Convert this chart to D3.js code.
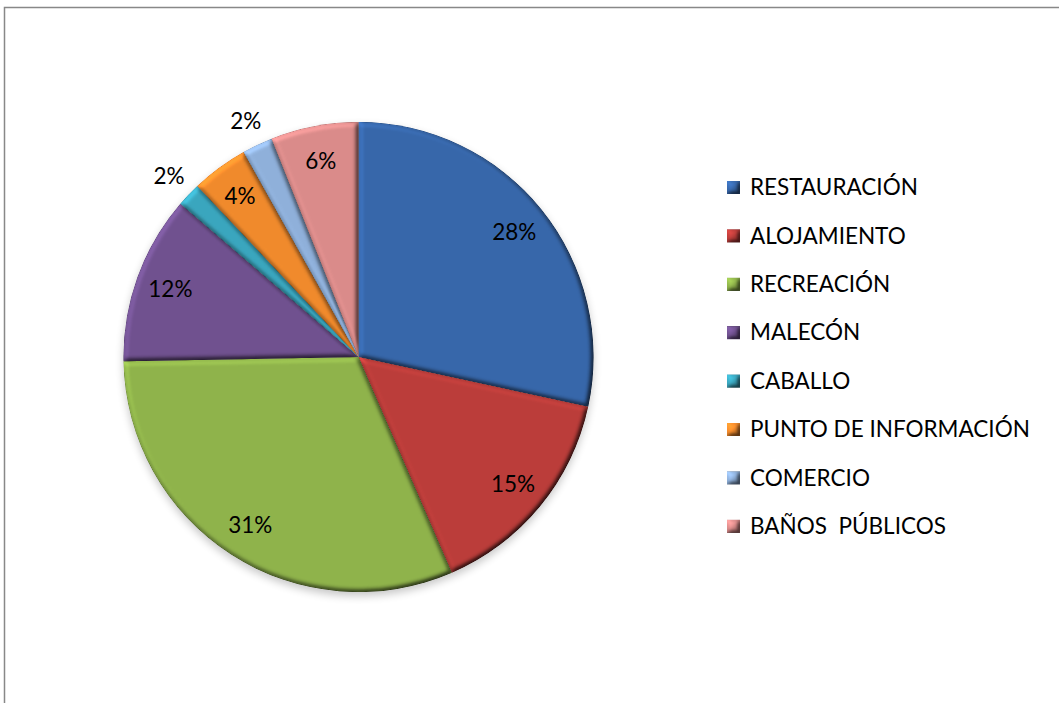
<!DOCTYPE html>
<html>
<head>
<meta charset="utf-8">
<script src="https://cdn.jsdelivr.net/npm/d3@7"></script>
<style>
  body { margin: 0; background: #fff; }
  text { font-family: Lato, "Open Sans", sans-serif; white-space: pre; }
</style>
</head>
<body>
<div id="chart"></div>
<script>
// Datos (partes del total)
var categorias  = ['RESTAURACIÓN', 'ALOJAMIENTO', 'RECREACIÓN', 'MALECÓN', 'CABALLO',
                   'PUNTO DE INFORMACIÓN', 'COMERCIO', 'BAÑOS  PÚBLICOS'];
var valores     = [28.4, 15.1, 31.2, 11.6, 1.66, 3.9, 2.1, 6.03];
var etiquetas   = ['28%', '15%', '31%', '12%', '2%', '4%', '2%', '6%'];
var colores     = ['#3767aa', '#bb3d3a', '#8fb34b', '#70518f', '#3aa6be',
                   '#f08a2c', '#8fb0da', '#da8b8a'];

var chart_width  = 1059;
var chart_height = 703;
var cx = 358.5, cy = 357, radius = 235;

var svg = d3.select('#chart')
    .append('svg')
    .attr('width', chart_width)
    .attr('height', chart_height);

// marco
svg.append('rect')
    .attr('x', 4.5).attr('y', 7.5)
    .attr('width', chart_width + 10).attr('height', chart_height + 10)
    .attr('fill', 'none')
    .attr('stroke', '#888')
    .attr('stroke-width', 1.5);

var defs = svg.append('defs');

// sombra
var sombra = defs.append('filter').attr('id', 'sombra')
    .attr('x', '-20%').attr('y', '-20%').attr('width', '140%').attr('height', '140%');
sombra.append('feGaussianBlur').attr('stdDeviation', 4);

// bisel
var bisel = defs.append('filter').attr('id', 'bisel')
    .attr('x', '-5%').attr('y', '-5%').attr('width', '110%').attr('height', '110%')
    .attr('color-interpolation-filters', 'sRGB');
bisel.append('feGaussianBlur').attr('in', 'SourceAlpha').attr('stdDeviation', 2.5).attr('result', 'blur');
bisel.append('feDiffuseLighting')
    .attr('in', 'blur').attr('surfaceScale', 3).attr('diffuseConstant', 1)
    .attr('lighting-color', '#fff').attr('result', 'luz')
    .append('feDistantLight').attr('azimuth', 225).attr('elevation', 58);
bisel.append('feComposite')
    .attr('in', 'SourceGraphic').attr('in2', 'luz')
    .attr('operator', 'arithmetic')
    .attr('k1', 1.18).attr('k2', 0).attr('k3', 0).attr('k4', 0);

var g = svg.append('g').attr('transform', 'translate(' + cx + ',' + cy + ')');

g.append('circle')
    .attr('cx', 0).attr('cy', 4)
    .attr('r', radius)
    .attr('fill', '#000')
    .attr('opacity', 0.22)
    .attr('filter', 'url(#sombra)');

var pie = d3.pie().sort(null).value(function(d){ return d; });
var arcs = pie(valores);

var arc = d3.arc().innerRadius(0).outerRadius(radius);
var arc_dentro = d3.arc().innerRadius(200).outerRadius(200);
var arc_fuera  = d3.arc().innerRadius(262).outerRadius(262);

g.selectAll('path.porcion')
    .data(arcs)
    .enter()
    .append('path')
    .attr('class', 'porcion')
    .attr('d', arc)
    .attr('fill', function(d, i){ return colores[i]; })
    .attr('filter', 'url(#bisel)');

g.selectAll('text.etiqueta')
    .data(arcs)
    .enter()
    .append('text')
    .attr('class', 'etiqueta')
    .attr('transform', function(d){
        var c = (d.data < 3 ? arc_fuera : arc_dentro).centroid(d);
        return 'translate(' + c[0] + ',' + c[1] + ')';
    })
    .attr('text-anchor', 'middle')
    .attr('dy', '0.36em')
    .attr('font-size', 22.5)
    .attr('fill', '#000')
    .text(function(d, i){ return etiquetas[i]; });

// leyenda
var leyenda = svg.append('g').attr('transform', 'translate(727,187)');
var fila = 48.4;

var item = leyenda.selectAll('g')
    .data(categorias)
    .enter()
    .append('g')
    .attr('transform', function(d, i){ return 'translate(0,' + (i * fila) + ')'; });

item.append('rect')
    .attr('x', 0).attr('y', -6)
    .attr('width', 13).attr('height', 13)
    .attr('fill', function(d, i){ return colores[i]; })
    .attr('filter', 'url(#bisel)');

item.append('text')
    .attr('x', 23)
    .attr('dy', '0.36em')
    .attr('font-size', 22.5)
    .attr('fill', '#000')
    .text(function(d){ return d; });
</script>
</body>
</html>
